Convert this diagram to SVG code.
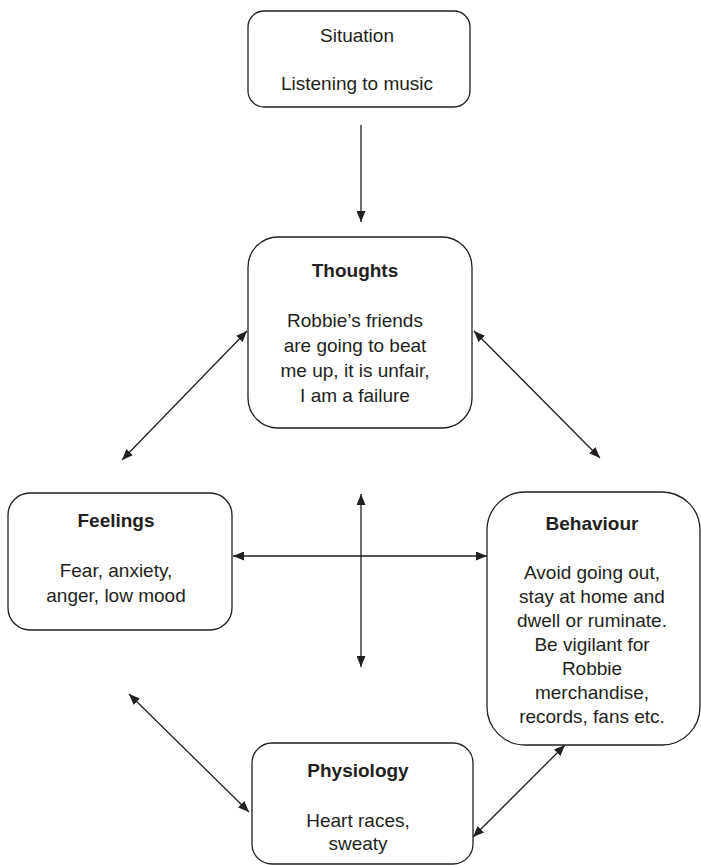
<svg xmlns="http://www.w3.org/2000/svg" width="701" height="865" viewBox="0 0 701 865">
  <style>
    .box { fill: #ffffff; stroke: #231f20; stroke-width: 1.3; }
    .t { font-family: "Liberation Sans", Arial, sans-serif; font-size: 19px; fill: #231f20; text-anchor: middle; }
    .h { font-weight: bold; }
    .link { stroke: #231f20; stroke-width: 1.3; fill: none; }
    .one { marker-end: url(#head); }
    .two { marker-start: url(#head); marker-end: url(#head); }
  </style>
  <defs>
    <!-- filled arrowhead shared by every connector -->
    <marker id="head" viewBox="0 0 11 9" refX="11" refY="4.5" markerWidth="11" markerHeight="9" markerUnits="userSpaceOnUse" orient="auto-start-reverse">
      <path d="M0,0 L11,4.5 L0,9 z" fill="#231f20"/>
    </marker>
  </defs>

  <rect width="701" height="865" fill="#ffffff"/>

  <g id="connectors">
    <line class="link one" x1="361" y1="125" x2="361" y2="222"/>
    <line class="link two" x1="247" y1="331" x2="122" y2="460"/>
    <line class="link two" x1="474" y1="331" x2="600" y2="458"/>
    <line class="link two" x1="361" y1="494" x2="361" y2="667"/>
    <line class="link two" x1="233" y1="556" x2="487" y2="556"/>
    <line class="link two" x1="129" y1="694" x2="249" y2="812"/>
    <line class="link two" x1="565" y1="745" x2="473" y2="837"/>
  </g>

  <g id="situation">
    <rect class="box" x="248" y="11" width="222" height="96" rx="16"/>
    <text class="t" x="357" y="42">Situation</text>
    <text class="t" x="357" y="90">Listening to music</text>
  </g>

  <g id="thoughts">
    <rect class="box" x="248" y="237" width="224" height="191" rx="30"/>
    <text class="t h" x="355" y="277">Thoughts</text>
    <text class="t" x="355" y="327">Robbie’s friends</text>
    <text class="t" x="355" y="352">are going to beat</text>
    <text class="t" x="355" y="377">me up, it is unfair,</text>
    <text class="t" x="355" y="402">I am a failure</text>
  </g>

  <g id="feelings">
    <rect class="box" x="8" y="493" width="224" height="137" rx="22"/>
    <text class="t h" x="116" y="527">Feelings</text>
    <text class="t" x="116" y="577">Fear, anxiety,</text>
    <text class="t" x="116" y="602">anger, low mood</text>
  </g>

  <g id="behaviour">
    <rect class="box" x="487" y="492" width="213" height="253" rx="38"/>
    <text class="t h" x="592" y="530">Behaviour</text>
    <text class="t" x="592" y="579">Avoid going out,</text>
    <text class="t" x="592" y="603">stay at home and</text>
    <text class="t" x="592" y="627">dwell or ruminate.</text>
    <text class="t" x="592" y="651">Be vigilant for</text>
    <text class="t" x="592" y="675">Robbie</text>
    <text class="t" x="592" y="699">merchandise,</text>
    <text class="t" x="592" y="723">records, fans etc.</text>
  </g>

  <g id="physiology">
    <rect class="box" x="252" y="743" width="221" height="121" rx="20"/>
    <text class="t h" x="358" y="777">Physiology</text>
    <text class="t" x="358" y="827">Heart races,</text>
    <text class="t" x="358" y="850">sweaty</text>
  </g>
</svg>
